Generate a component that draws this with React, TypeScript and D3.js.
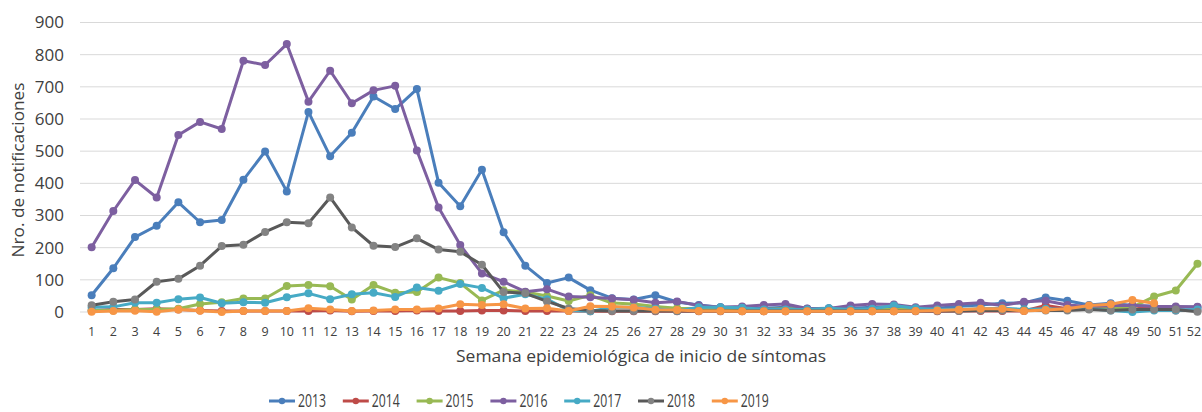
import React from "react";
import * as d3 from "d3";

const weeks: number[] = Array.from({ length: 52 }, (_, i) => i + 1);
const yTicks: number[] = [0, 100, 200, 300, 400, 500, 600, 700, 800, 900];

const s2013 = [52, 136, 233, 268, 341, 279, 286, 411, 499, 375, 622, 484, 557, 670, 631, 693, 402, 329, 442, 248, 144, 90, 107, 68, 43, 39, 52, 31, 22, 15, 15, 12, 15, 10, 12, 12, 15, 15, 12, 12, 18, 22, 27, 28, 45, 35, 22, 27, 20, 18, 15, 15];
const s2014 = [5, 8, 8, 10, 8, 5, 3, 3, 3, 3, 3, 5, 2, 3, 3, 5, 3, 3, 5, 5, 3, 3, 3, 2, 2, 2, 2, 2, 2, 2, 2, 2, 2, 2, 2, 2, 2, 2, 2, 2, 3, 3, 3, 3, 20, 10, 10, 15, 20, 10, 5, 5];
const s2015 = [5, 5, 8, 8, 10, 25, 30, 42, 42, 81, 84, 80, 39, 84, 60, 62, 107, 90, 36, 68, 62, 50, 34, 52, 28, 25, 17, 12, 10, 8, 8, 8, 10, 8, 8, 8, 8, 8, 8, 8, 8, 8, 8, 8, 8, 8, 10, 10, 15, 48, 67, 150];
const s2016 = [201, 314, 410, 356, 550, 591, 569, 781, 768, 833, 654, 750, 649, 689, 703, 502, 325, 208, 120, 94, 63, 71, 48, 46, 42, 38, 29, 33, 20, 15, 17, 22, 25, 11, 11, 20, 25, 23, 15, 20, 25, 29, 20, 32, 35, 22, 17, 20, 21, 17, 17, 16];
const s2017 = [15, 16, 29, 29, 40, 45, 27, 30, 29, 46, 58, 40, 55, 60, 47, 76, 66, 87, 75, 43, 55, 40, 5, 2, 15, 15, 10, 3, 15, 15, 13, 8, 8, 8, 12, 8, 10, 20, 12, 8, 8, 10, 12, 8, 10, 8, 10, 5, 0, 5, 5, 8];
const s2018 = [21, 32, 39, 94, 103, 144, 205, 209, 249, 279, 276, 356, 263, 206, 202, 229, 194, 187, 147, 62, 58, 33, 11, 5, 3, 3, 3, 3, 3, 3, 3, 3, 3, 3, 3, 3, 3, 3, 3, 3, 3, 5, 5, 5, 5, 5, 8, 5, 8, 8, 8, 1];
const s2019 = [1, 3, 4, 1, 8, 4, 0, 3, 3, 3, 12, 8, 3, 5, 8, 8, 11, 24, 22, 24, 11, 12, 3, 18, 17, 14, 7, 6, 3, 3, 2, 2, 2, 2, 2, 2, 2, 2, 3, 5, 7, 10, 10, 3, 6, 10, 20, 24, 37, 27];

const seriesNames = ["2013", "2014", "2015", "2016", "2017", "2018", "2019"];
const seriesValues = [s2013, s2014, s2015, s2016, s2017, s2018, s2019];
const lineColors = ["#4a7ebb", "#be4b48", "#98b954", "#7d5fa0", "#46aac5", "#595959", "#f79646"];
const markerColors = ["#4a7ebb", "#be4b48", "#98b954", "#7d5fa0", "#46aac5", "#838383", "#f79646"];

const FONT = "'Open Sans', 'Noto Sans', sans-serif";

export default function App() {
  const W = 1202, H = 412;
  const x = d3.scaleBand<number>().domain(weeks).range([80.8, 1208.3]);
  const cx = (w: number) => (x(w) as number) + x.bandwidth() / 2;
  const y = d3.scaleLinear().domain([0, 900]).range([312, 22.5]);
  const line = d3.line<number>().x((_, i) => cx(weeks[i])).y((v) => y(v));

  const legendX0 = 269, legendStep = 73.8, legendY = 401;

  return (
    <svg width={W} height={H} style={{ position: "absolute", left: 0, top: 0, background: "#fff" }} fontFamily={FONT}>
      <rect x={0} y={0} width={W} height={H} fill="#fff" />
      {yTicks.map((t) => (
        <g key={t}>
          <line x1={80} x2={W} y1={y(t)} y2={y(t)} stroke="#d9d9d9" strokeWidth={1} />
          <text x={64} y={y(t)} dy="0.35em" textAnchor="end" fontSize={17} fill="#404040">{t}</text>
        </g>
      ))}
      {weeks.map((w) => (
        <text key={w} x={Math.min(cx(w), 1194)} y={336} textAnchor="middle" fontSize={12.5} fill="#404040">{w}</text>
      ))}
      <text x={641} y={362} textAnchor="middle" fontSize={17} fill="#404040" textLength={370} lengthAdjust="spacingAndGlyphs">
        Semana epidemiológica de inicio de síntomas
      </text>
      <text transform="translate(24,170) rotate(-90)" textAnchor="middle" fontSize={17} fill="#404040" textLength={175} lengthAdjust="spacingAndGlyphs">
        Nro. de notificaciones
      </text>
      {seriesValues.map((vals, si) => (
        <g key={seriesNames[si]}>
          <path d={line(vals) || ""} fill="none" stroke={lineColors[si]} strokeWidth={3} strokeLinejoin="round" strokeLinecap="round" />
          {vals.map((v, i) => (
            <circle key={i} cx={cx(weeks[i])} cy={y(v)} r={4} fill={markerColors[si]} />
          ))}
        </g>
      ))}
      {seriesNames.map((n, si) => {
        const lx = legendX0 + si * legendStep;
        return (
          <g key={n}>
            <line x1={lx} x2={lx + 26} y1={legendY} y2={legendY} stroke={lineColors[si]} strokeWidth={3} />
            <circle cx={lx + 13} cy={legendY} r={3.2} fill={markerColors[si]} />
            <text x={lx + 29} y={legendY} dy="0.36em" fontSize={18} fill="#404040" textLength={28} lengthAdjust="spacingAndGlyphs">{n}</text>
          </g>
        );
      })}
    </svg>
  );
}
